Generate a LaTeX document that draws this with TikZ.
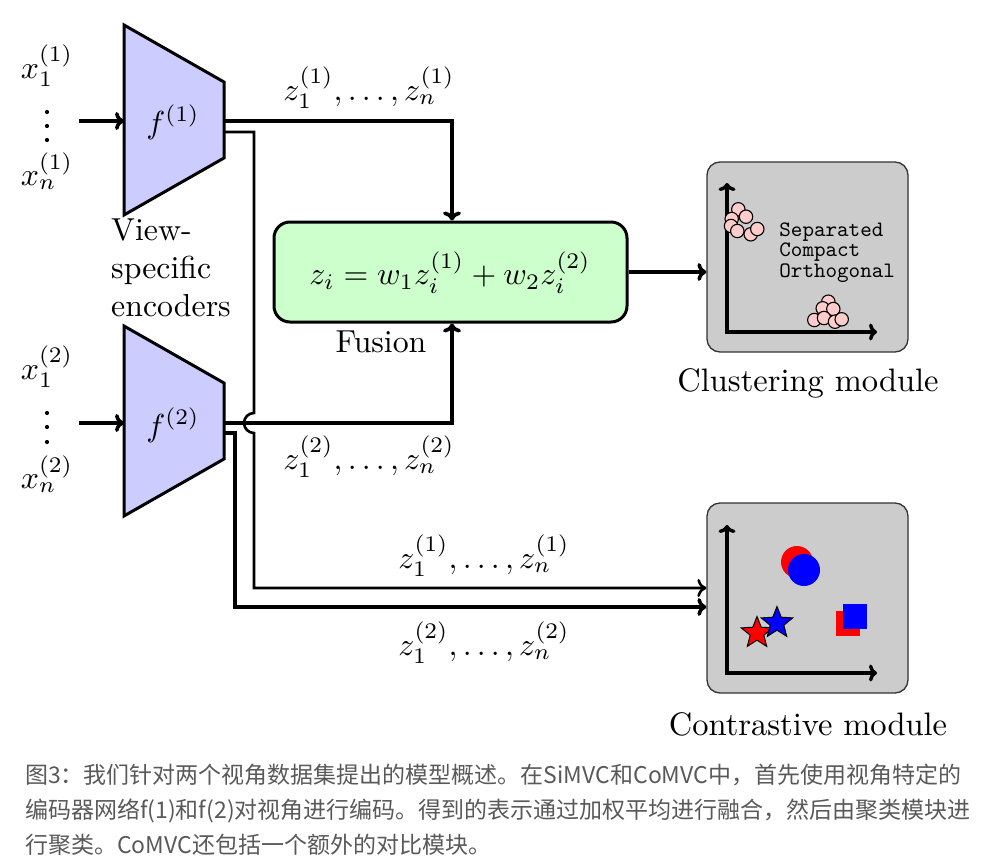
\documentclass[tikz,border=0pt]{standalone}
\usepackage{fontspec}
\newfontfamily\cjk{Noto Sans CJK SC}
\usetikzlibrary{shapes.geometric,arrows.meta}
\definecolor{encfill}{RGB}{204,204,255}
\definecolor{fusfill}{RGB}{204,255,204}
\definecolor{modfill}{RGB}{204,204,204}
\definecolor{pinkfill}{RGB}{255,204,204}
\definecolor{capgray}{RGB}{89,89,89}
\begin{document}
\begin{tikzpicture}[x=1pt,y=-1pt,
  lab/.style={font=\normalsize, inner sep=0pt, scale=3.18},
  biglab/.style={font=\normalsize, inner sep=0pt, scale=3.25},
  mainln/.style={line width=3.6pt, line join=miter},
  secln/.style={line width=2.6pt, line join=miter},
  tip/.style={-{Computer Modern Rightarrow[length=9pt,width=18pt]}},
  axtip/.style={{Computer Modern Rightarrow[length=8pt,width=17pt]}-{Computer Modern Rightarrow[length=8pt,width=17pt]}},
  enc/.style={draw=black, line width=3pt, fill=encfill, line join=miter},
  fusbox/.style={draw=black, line width=3pt, fill=fusfill, rounded corners=16pt,
    minimum width=353pt, minimum height=100pt, inner sep=0pt},
  modbox/.style={draw=black!80, line width=1.3pt, fill=modfill, rounded corners=13pt,
    minimum width=201pt, minimum height=190pt, inner sep=0pt},
  axis/.style={line width=3.4pt, line join=miter},
  blob/.style={fill=pinkfill, draw=black, line width=1.1pt},
  dot/.style={fill=black}
]
\useasboundingbox (0,0) rectangle (1004,867);

% ---------- encoders ----------
\draw[enc] (124,25) -- (224,82) -- (224,158) -- (124,215) -- cycle;
\node[lab] (f1) at (173,122) {$f^{(1)}$};
\draw[enc] (124,326) -- (224,383) -- (224,459) -- (124,516) -- cycle;
\node[lab] (f2) at (173,425) {$f^{(2)}$};

\node[lab, align=left] (vse) at (171,268) {View-\\specific\\encoders};

% ---------- inputs ----------
\node[lab] (x11) at (47,66) {$x_1^{(1)}$};
\node[lab] (xn1) at (47,171) {$x_n^{(1)}$};
\fill[dot] (47,112) circle[radius=2.1];
\fill[dot] (47,126) circle[radius=2.1];
\fill[dot] (47,140) circle[radius=2.1];
\node[lab] (x12) at (47,367) {$x_1^{(2)}$};
\node[lab] (xn2) at (47,474) {$x_n^{(2)}$};
\fill[dot] (47,413) circle[radius=2.1];
\fill[dot] (47,427) circle[radius=2.1];
\fill[dot] (47,442) circle[radius=2.1];

\coordinate (s1) at (79,121);
\coordinate (e1in) at (124,121);
\coordinate (s2) at (79,423);
\coordinate (e2in) at (124,423);
\coordinate (e1a) at (224,121);
\coordinate (e1b) at (224,132);
\coordinate (e2a) at (224,423);
\coordinate (e2b) at (224,433);

\draw[mainln,tip] (s1) -- (e1in);
\draw[mainln,tip] (s2) -- (e2in);

% ---------- fusion ----------
\node[fusbox] (fus) at (450.5,272) {};
\node[lab] (fml) at (450,272.5) {$z_i = w_1 z_i^{(1)} + w_2 z_i^{(2)}$};
\node[lab] (fuslab) at (381,342) {Fusion};

% ---------- modules ----------
\node[modbox] (clu) at (807.5,257) {};
\node[biglab] (clulab) at (808,383) {Clustering module};
\node[modbox] (con) at (807.5,598) {};
\node[biglab] (conlab) at (808,724) {Contrastive module};

% ---------- connectors ----------
\draw[mainln,tip] (e1a) -| ([xshift=1.5pt]fus.north);
\draw[mainln,tip] (e2a) -| ([xshift=1.5pt]fus.south);
\draw[secln,tip] (e1b) -- (254,132) -- (254,413)
  arc[start angle=270, end angle=90, radius=10] -- (254,588) -- ([yshift=10pt]con.west);
\draw[mainln,tip] (e2b) -- (235,433) -- (235,607) -- ([yshift=-9pt]con.west);
\draw[mainln,tip] (fus.east) -- (fus.east -| clu.west);

\node[lab] (za) at (369,88) {$z_1^{(1)},\ldots,z_n^{(1)}$};
\node[lab] (zb) at (369,457) {$z_1^{(2)},\ldots,z_n^{(2)}$};
\node[lab] (zc) at (484,556) {$z_1^{(1)},\ldots,z_n^{(1)}$};
\node[lab] (zd) at (484,643) {$z_1^{(2)},\ldots,z_n^{(2)}$};

% ---------- clustering plot ----------
\draw[axis,axtip] (727,183) -- (727,332) -- (877,332);
\foreach \p in {(738.3,209.3),(746,216.7),(731.7,219),(731,226),(737.3,231),(750.7,234.3),(757.3,229)}
  \filldraw[blob] \p circle[radius=6.7];
\foreach \p in {(828.3,301.7),(822.7,308.3),(833.3,309),(814.3,320),(824,318),(835,321.7),(841.7,319.3)}
  \filldraw[blob] \p circle[radius=6.7];
\node[font=\ttfamily\fontsize{10}{9.3}\selectfont, scale=2.2, align=left, anchor=north west, inner sep=0pt]
  (sco) at (779,222) {Separated\\Compact\\Orthogonal};

% ---------- contrastive plot ----------
\draw[axis,axtip] (727,525) -- (727,673) -- (877,673);
\fill[red] (797,562) circle[radius=16];
\fill[blue] (804,570) circle[radius=16];
\fill[red] (836,611) rectangle (860,636);
\fill[blue] (843,604) rectangle (867,629);
\node[star, star points=5, star point ratio=2.3, minimum size=33pt, inner sep=0pt,
  fill=red, draw=black, line width=1pt] (rstar) at (757,633) {};
\node[star, star points=5, star point ratio=2.3, minimum size=33pt, inner sep=0pt,
  fill=blue, draw=black, line width=1pt] (bstar) at (777,623) {};

% ---------- caption ----------
\node[anchor=west, align=left, inner sep=0pt, text=capgray,
  font=\cjk\fontsize{23}{35}\selectfont] (cap) at (25,810)
  {图3：我们针对两个视角数据集提出的模型概述。在SiMVC和CoMVC中，首先使用视角特定的\\
   编码器网络f(1)和f(2)对视角进行编码。得到的表示通过加权平均进行融合，然后由聚类模块进\\
   行聚类。CoMVC还包括一个额外的对比模块。};
\end{tikzpicture}
\end{document}
